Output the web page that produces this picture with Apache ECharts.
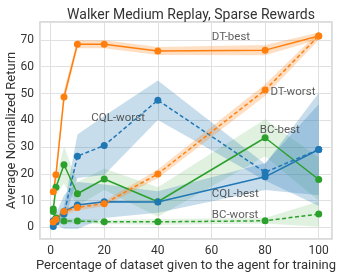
<!DOCTYPE html>
<html>
<head>
<meta charset="utf-8">
<script src="https://cdn.jsdelivr.net/npm/echarts@6/dist/echarts.min.js"></script>
<style>html,body{margin:0;padding:0;background:#fff}#c{width:338px;height:278px}</style>
</head>
<body>
<div id="c"></div>
<script>
// ---- data ----
var xs = [1, 2, 5, 10, 20, 40, 80, 100];

var dtBest     = [13.3, 19.7, 48.7, 68.4, 68.4, 65.9, 66.2, 71.5];
var dtBestLo   = [11.8, 17.2, 46.2, 66.9, 66.9, 64.4, 64.3, 70.2];
var dtBestHi   = [14.8, 22.2, 51.2, 69.9, 69.9, 67.4, 68.1, 72.8];

var dtWorst    = [2.0, 3.0, 6.0, 7.5, 8.9, 20.0, 51.3, 71.5];
var dtWorstLo  = [1.2, 2.0, 4.8, 6.3, 7.9, 18.4, 49.1, 70.0];
var dtWorstHi  = [2.8, 4.0, 7.2, 8.7, 9.9, 21.6, 53.5, 73.0];

var cqlBest    = [2.5, 3.0, 6.0, 8.4, 9.6, 9.5, 18.9, 29.1];
var cqlBestLo  = [1.0, 1.0, -0.5, -0.6, 3.5, 5.5, 14.0, 12.0];
var cqlBestHi  = [4.0, 5.0, 12.0, 17.0, 16.0, 13.5, 24.0, 46.0];

var cqlWorst   = [0.4, 2.0, 5.0, 26.6, 30.6, 47.5, 20.6, 29.1];
var cqlWorstLo = [-0.5, 1.0, 2.0, 18.5, 19.6, 40.1, 17.5, 8.0];
var cqlWorstHi = [1.3, 3.0, 8.0, 34.7, 41.6, 54.9, 23.7, 50.2];

var bcBest     = [6.9, 15.0, 23.4, 12.6, 18.1, 9.6, 33.5, 17.9];
var bcBestLo   = [5.5, 12.0, 16.5, 8.0, 14.0, 4.0, 26.6, 10.0];
var bcBestHi   = [8.3, 18.0, 30.3, 17.0, 22.0, 15.0, 40.4, 26.0];

var bcWorst    = [6.0, 3.5, 2.4, 2.4, 2.1, 2.1, 2.5, 5.0];
var bcWorstLo  = [5.0, 2.5, 1.5, 1.5, 1.3, 1.0, 1.5, 0.3];
var bcWorstHi  = [7.0, 4.5, 3.3, 3.3, 2.9, 3.2, 3.5, 9.7];

var labelNames = ['DT-best', 'DT-worst', 'CQL-worst', 'BC-best', 'CQL-best', 'BC-worst'];
var labelX     = [60.1, 82.0, 15.2, 78.0, 60.1, 60.1];
var labelY     = [70.9, 50.7, 40.7, 36.5, 12.6, 4.7];

var titleText = 'Walker Medium Replay, Sparse Rewards';
var xName = 'Percentage of dataset given to the agent for training';
var yName = 'Average Normalized Return';

// ---- chart ----
var BLUE = '#1f77b4', ORANGE = '#ff7f0e', GREEN = '#2ca02c';
var FONT = 'Roboto';

function pairs(ys) { return xs.map(function (x, i) { return [x, ys[i]]; }); }

function band(name, lo, hi, color, opacity) {
  return {
    type: 'custom',
    name: name,
    silent: true,
    z: 1,
    data: [[0]],
    renderItem: function (params, api) {
      var pts = [];
      for (var i = 0; i < xs.length; i++) pts.push(api.coord([xs[i], hi[i]]));
      for (var j = xs.length - 1; j >= 0; j--) pts.push(api.coord([xs[j], lo[j]]));
      return {
        type: 'polygon',
        shape: { points: pts },
        style: { fill: color, opacity: opacity, stroke: null }
      };
    }
  };
}

function line(name, ys, color, dashed) {
  return {
    type: 'line',
    name: name,
    data: pairs(ys),
    z: 3,
    symbol: 'circle',
    symbolSize: 7,
    showSymbol: true,
    lineStyle: { color: color, width: 1.5, type: dashed ? [4, 2.5] : 'solid' },
    itemStyle: { color: color },
    emphasis: { disabled: true },
    animation: false
  };
}

var chart = echarts.init(document.getElementById('c'), null, { renderer: 'canvas' });

chart.setOption({
  animation: false,
  backgroundColor: '#fff',
  title: {
    text: titleText,
    left: 186, top: 3, textAlign: 'center',
    textStyle: { fontFamily: FONT, fontSize: 14, fontWeight: 'normal', color: '#333' }
  },
  grid: {
    left: 40, right: 6, top: 22, bottom: 39,
    containLabel: false, outerBoundsMode: 'none',
    show: true, borderColor: '#d0d0d0', borderWidth: 1.5, backgroundColor: 'transparent'
  },
  xAxis: {
    type: 'value', min: -3.95, max: 104.95, splitNumber: 5,
    name: xName, nameLocation: 'middle', nameGap: 20, nameMoveOverlap: false,
    nameTextStyle: { fontFamily: FONT, fontSize: 13, color: '#333' },
    axisLine: { show: false }, axisTick: { show: false },
    axisLabel: {
      fontFamily: FONT, fontSize: 12, color: '#333', margin: 6,
      formatter: function (v) { return (Math.abs(v % 20) < 1e-6) ? String(v) : ''; }
    },
    splitLine: { show: true, lineStyle: { color: '#e0e0e0', width: 1 } }
  },
  yAxis: {
    type: 'value', min: -4.3, max: 76.7, splitNumber: 8,
    name: yName, nameLocation: 'middle', nameGap: 22, nameRotate: 90, nameMoveOverlap: false,
    nameTextStyle: { fontFamily: FONT, fontSize: 13, color: '#333' },
    axisLine: { show: false }, axisTick: { show: false },
    axisLabel: {
      fontFamily: FONT, fontSize: 12, color: '#333', margin: 6,
      formatter: function (v) { return (Math.abs(v % 10) < 1e-6) ? String(v) : ''; }
    },
    splitLine: { show: true, lineStyle: { color: '#e0e0e0', width: 1 } }
  },
  series: [
    band('bcBestBand', bcBestLo, bcBestHi, GREEN, 0.15),
    band('bcWorstBand', bcWorstLo, bcWorstHi, GREEN, 0.15),
    band('cqlBestBand', cqlBestLo, cqlBestHi, BLUE, 0.25),
    band('cqlWorstBand', cqlWorstLo, cqlWorstHi, BLUE, 0.25),
    band('dtBestBand', dtBestLo, dtBestHi, ORANGE, 0.25),
    band('dtWorstBand', dtWorstLo, dtWorstHi, ORANGE, 0.25),
    line('BC-best', bcBest, GREEN, false),
    line('BC-worst', bcWorst, GREEN, true),
    line('CQL-best', cqlBest, BLUE, false),
    line('CQL-worst', cqlWorst, BLUE, true),
    line('DT-best', dtBest, ORANGE, false),
    line('DT-worst', dtWorst, ORANGE, true),
    {
      type: 'scatter', name: 'labels', silent: true, z: 5,
      symbolSize: 0,
      data: labelNames.map(function (n, i) { return { name: n, value: [labelX[i], labelY[i]] }; }),
      label: {
        show: true, position: 'right', distance: 0,
        formatter: function (p) { return p.name; },
        fontFamily: FONT, fontSize: 11.5, color: '#333'
      }
    }
  ]
});
</script>
</body>
</html>
